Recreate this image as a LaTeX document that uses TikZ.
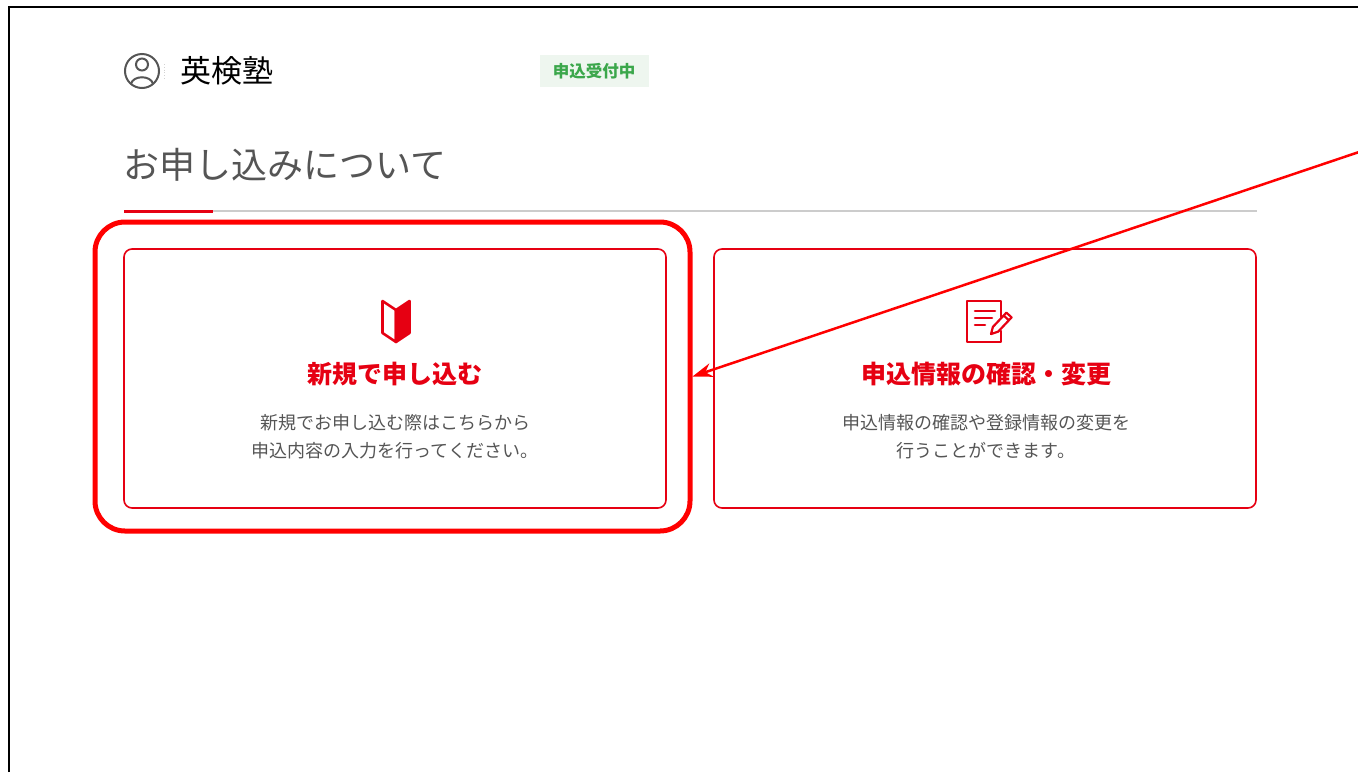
\documentclass[tikz,border=0pt]{standalone}
\usepackage{fontspec}
\setmainfont{Noto Sans CJK JP}
\usetikzlibrary{positioning,arrows.meta}
\definecolor{jred}{HTML}{E60012}
\definecolor{txtgray}{HTML}{555555}
\definecolor{okgreen}{HTML}{3BA74B}
\definecolor{okbg}{HTML}{EEF6EF}
\definecolor{rulegray}{HTML}{CCCCCC}

\begin{document}
\begin{tikzpicture}[
    x=1pt, y=-1pt,
    >=Stealth,
    card/.style={draw=jred,line width=1.6pt,rounded corners=8pt,minimum width=542pt,minimum height=259pt,inner sep=0pt},
    cardtitle/.style={text=jred,font=\fontsize{25}{30}\selectfont\bfseries,inner sep=0pt},
    carddesc/.style={text=txtgray,font=\fontsize{18}{28}\selectfont,align=center,inner sep=0pt},
    icon/.style={draw=jred,line width=2.6pt,line join=round},
  ]
  \useasboundingbox (0,0) rectangle (1358,772);
  % Frame
  \draw[line width=2.5pt] (9,772) -- (9,7) -- (1358,7);

  % Header
  \draw[txtgray,line width=2pt] (142,71) circle (17);
  \draw[txtgray,line width=2pt] (142,64.5) circle (6);
  \draw[txtgray,line width=2pt] (131,84) .. controls (133,75) and (151,75) .. (153,84);
  \draw[gray!35,line width=0.8pt,dotted] (164,64) -- (164,80);
  \node[anchor=west,inner sep=0pt,font=\fontsize{31}{36}\selectfont] (school) at (180,71) {英検塾};
  \node[fill=okbg,text=okgreen,font=\fontsize{16.5}{20}\selectfont\bfseries,minimum width=109pt,minimum height=32pt,inner sep=0pt] (status) at (594,71) {申込受付中};
  \node[anchor=west,inner sep=0pt,text=txtgray,font=\fontsize{36}{42}\selectfont] (heading) at (123,165) {お申し込みについて};
  \draw[rulegray,line width=2pt] (124,211) -- (1257,211);
  \draw[jred,line width=3pt] (124,211) -- (213,211);

  % Cards
  \node[card] (newcard) at (395,378.5) {};
  \node[card] (editcard) at (985,378.5) {};
  \node[cardtitle] (newtitle) at (395,374) {新規で申し込む};
  \node[cardtitle] (edittitle) at (986,374) {申込情報の確認・変更};
  \node[carddesc,below=28pt of newtitle] (newdesc) {新規でお申し込む際はこちらから\\申込内容の入力を行ってください。};
  \node[carddesc,below=28pt of edittitle] (editdesc) {申込情報の確認や登録情報の変更を\\行うことができます。};

  % Icons
  \begin{scope}[shift={(396,321)}]
    \draw[icon] (-13.5,-20) -- (0,-11) -- (0,21) -- (-13.5,12) -- cycle;
    \filldraw[icon,fill=jred] (0,-11) -- (13.5,-20) -- (13.5,12) -- (0,21) -- cycle;
  \end{scope}
  \begin{scope}[shift={(984,321)}]
    \draw[icon,line cap=round] (17,-4) -- (17,-20) -- (-17,-20) -- (-17,21) -- (17,21) -- (17,10);
    \draw[icon,line cap=round] (-9,-10) -- (11,-10) (-9,-3) -- (8,-3) (-9,4) -- (1,4);
    \draw[icon,line width=2.2pt] (22.4,-8.4) -- (27.6,-3.6) -- (14.1,10.7) -- (7,13) -- (8.9,5.9) -- cycle;
    \draw[icon,line width=2.2pt] (24.9,-0.7) -- (19.7,-5.5);
  \end{scope}

  % Highlight
  \node[draw=red,line width=5pt,rounded corners=30pt,minimum width=595pt,minimum height=309pt,inner sep=0pt] (hl) at (392.5,376.5) {};

  % Arrows
  \coordinate (pointer) at (1362,151);
  \draw[->,>={Stealth[length=20pt,width=14pt]},red,line width=2.5pt] (pointer) -- (hl.east);
\end{tikzpicture}
\end{document}
